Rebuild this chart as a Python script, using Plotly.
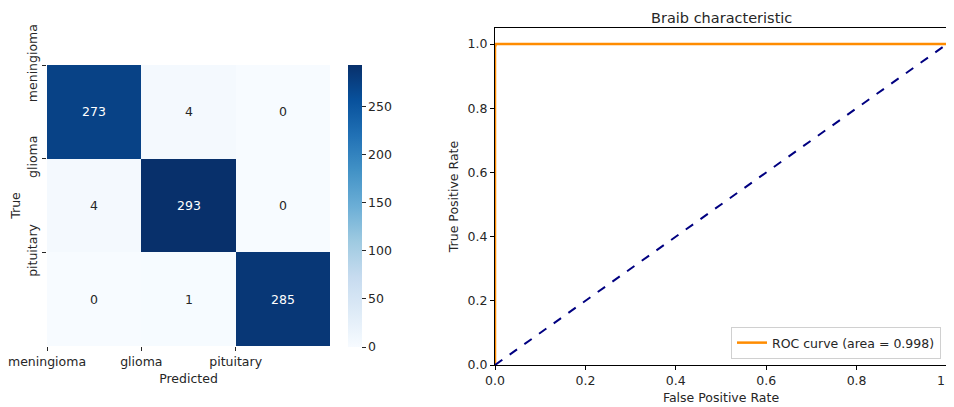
import plotly.graph_objects as go

# ---- data ----
class_labels = ["meningioma", "glioma", "pituitary"]
conf_matrix = [
    [273, 4, 0],
    [4, 293, 0],
    [0, 1, 285],
]
cbar_ticks = [0, 50, 100, 150, 200, 250]

roc_fpr = [0.0, 0.0, 0.002, 1.0]
roc_tpr = [0.0, 0.99, 1.0, 1.0]
roc_auc = 0.998
diag_x = [0.0, 1.0]
diag_y = [0.0, 1.0]
roc_ticks = [0.0, 0.2, 0.4, 0.6, 0.8, 1.0]

W, H = 954, 407
OFF = 8  # default page body margin
FW, FH = W - OFF, H - OFF
FONT = "DejaVu Sans"
TXT = "#262626"

blues = [
    [0.0, "#f7fbff"], [0.125, "#deebf7"], [0.25, "#c6dbef"], [0.375, "#9ecae1"],
    [0.5, "#6baed6"], [0.625, "#4292c6"], [0.75, "#2171b5"], [0.875, "#08519c"],
    [1.0, "#08306b"],
]
zmax = 293

def px_x(p):
    return (p - OFF) / FW

def px_y(p):
    return 1 - (p - OFF) / FH

fig = go.Figure()

n = len(class_labels)
fig.add_trace(go.Heatmap(
    z=conf_matrix,
    x=list(range(n)),
    y=list(range(n)),
    colorscale=blues,
    zmin=0, zmax=zmax,
    xaxis="x", yaxis="y",
    showscale=True,
    hoverinfo="z",
    colorbar=dict(
        x=px_x(348), xanchor="left",
        y=px_y(65), yanchor="top",
        len=(347 - 65) / FH, lenmode="fraction",
        thickness=14, thicknessmode="pixels",
        outlinewidth=0,
        tickvals=cbar_ticks,
        ticks="outside", ticklen=4, tickcolor=TXT,
        tickfont=dict(family=FONT, size=12.5, color=TXT),
        xpad=0, ypad=0,
    ),
))

annotations = []
for i in range(n):
    for j in range(n):
        v = conf_matrix[i][j]
        annotations.append(dict(
            x=j, y=i, xref="x", yref="y", text=str(v), showarrow=False,
            font=dict(family=FONT, size=12.5, color="white" if v > zmax / 2 else TXT),
        ))

fig.add_trace(go.Scatter(
    x=roc_fpr, y=roc_tpr, mode="lines",
    line=dict(color="darkorange", width=2.5),
    name=f"ROC curve (area = {roc_auc})",
    xaxis="x2", yaxis="y2", showlegend=True,
))
fig.add_trace(go.Scatter(
    x=diag_x, y=diag_y, mode="lines",
    line=dict(color="navy", width=2, dash="dash"),
    xaxis="x2", yaxis="y2", showlegend=False,
))

annotations.append(dict(
    text="Braib characteristic", x=(px_x(495) + px_x(947)) / 2, y=1.0,
    xref="paper", yref="paper", showarrow=False, xanchor="center", yanchor="top",
    font=dict(family=FONT, size=14.5, color=TXT),
))

tickfont = dict(family=FONT, size=12.5, color=TXT)

fig.update_layout(
    width=FW, height=FH,
    margin=dict(l=0, r=0, t=0, b=0, autoexpand=False),
    paper_bgcolor="white", plot_bgcolor="white",
    font=dict(family=FONT, color=TXT),
    annotations=annotations,
    xaxis=dict(
        domain=[px_x(47), px_x(330)], anchor="y",
        range=[-0.5, n - 0.5],
        tickvals=[k - 0.5 for k in range(n)], ticktext=class_labels,
        ticks="outside", ticklen=4, tickcolor=TXT,
        tickfont=tickfont, showgrid=False, zeroline=False, showline=False,
        ticklabeloverflow="allow",
        title=dict(text="Predicted", font=dict(family=FONT, size=12.5, color=TXT), standoff=6),
        automargin=False,
    ),
    yaxis=dict(
        domain=[px_y(346), px_y(65)], anchor="x",
        range=[n - 0.5, -0.5],
        tickvals=[k - 0.5 for k in range(n)], ticktext=class_labels,
        tickangle=-90,
        ticks="outside", ticklen=4, tickcolor=TXT,
        tickfont=tickfont, showgrid=False, zeroline=False, showline=False,
        ticklabeloverflow="allow",
        title=dict(text="True", font=dict(family=FONT, size=12.5, color=TXT), standoff=4),
        automargin=False,
    ),
    xaxis2=dict(
        domain=[px_x(495), px_x(947)], anchor="y2",
        range=[0, 1], tickvals=roc_ticks, tickformat=".1f",
        ticks="outside", ticklen=4, tickcolor="black",
        tickfont=tickfont, showgrid=False, zeroline=False,
        showline=True, linecolor="black", linewidth=1, mirror=True,
        layer="below traces",
        ticklabeloverflow="allow",
        title=dict(text="False Positive Rate", font=dict(family=FONT, size=12.5, color=TXT), standoff=6),
        automargin=False,
    ),
    yaxis2=dict(
        domain=[px_y(365), px_y(28)], anchor="x2",
        range=[0, 1.05], tickvals=roc_ticks, tickformat=".1f",
        ticks="outside", ticklen=4, tickcolor="black",
        tickfont=tickfont, showgrid=False, zeroline=False,
        showline=True, linecolor="black", linewidth=1, mirror=True,
        layer="below traces",
        ticklabeloverflow="allow",
        title=dict(text="True Positive Rate", font=dict(family=FONT, size=12.5, color=TXT), standoff=6),
        automargin=False,
    ),
    legend=dict(
        x=px_x(941), xanchor="right", y=px_y(359), yanchor="bottom",
        bordercolor="#d0d0d0", borderwidth=1, bgcolor="white",
        font=dict(family=FONT, size=12.5, color=TXT),
        itemwidth=30,
    ),
)

fig.write_html("out.html")
